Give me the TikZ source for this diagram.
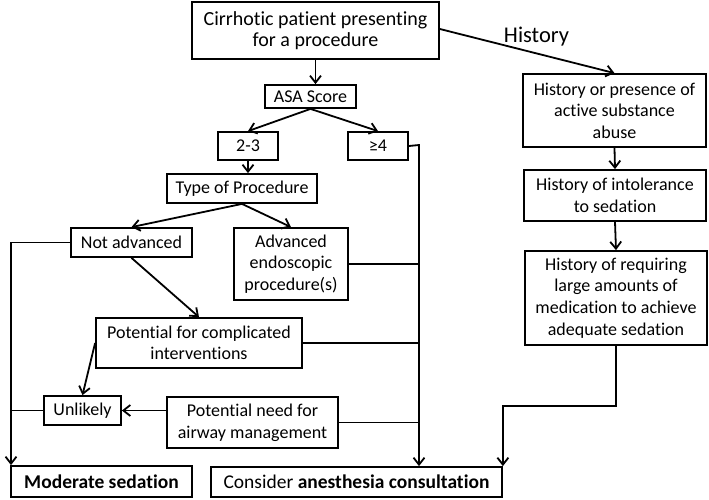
\documentclass[tikz,border=0pt]{standalone}
\usepackage{fontspec}
\setmainfont{Carlito}[Ligatures=NoCommon]
\usepackage{tikz}
\usetikzlibrary{shapes,arrows.meta,positioning}
\tikzstyle{bnode} = [rectangle, draw, line width=1.8pt, inner sep=0pt, align=center, font=\fontsize{18}{21.6}\selectfont]
\tikzstyle{line} = [draw, line width=1.8pt]
\tikzstyle{aline} = [draw, line width=1.8pt, -{Straight Barb[length=7pt,width=11pt]}]

\begin{document}
\begin{tikzpicture}[x=1pt, y=-1pt]
			\useasboundingbox (0,0) rectangle (709,499);
			\node [bnode, minimum width=247, minimum height=57, font=\fontsize{20}{21.5}\selectfont] (start) at (315.5, 30.5) {Cirrhotic patient presenting\\for a procedure};
			\node [bnode, minimum width=91, minimum height=23] (asa) at (310.5, 96.5) {ASA Score};
			\node [bnode, minimum width=60, minimum height=28] (low) at (248, 146) {2-3};
			\node [bnode, minimum width=60, minimum height=28] (high) at (378, 146) {≥4};
			\node [bnode, minimum width=150, minimum height=29] (type) at (242, 188.5) {Type of Procedure};
			\node [bnode, minimum width=121, minimum height=29] (notadv) at (131.5, 242.5) {Not advanced};
			\node [bnode, minimum width=114, minimum height=72] (adv) at (291, 264) {Advanced\\endoscopic\\procedure(s)};
			\node [bnode, minimum width=206, minimum height=50] (compl) at (199, 343) {Potential for complicated\\interventions};
			\node [bnode, minimum width=77, minimum height=29] (unlikely) at (82.5, 410.5) {Unlikely};
			\node [bnode, minimum width=171, minimum height=51] (airway) at (252.5, 422.5) {Potential need for\\airway management};
			\node [bnode, minimum width=181, minimum height=31, font=\fontsize{19.5}{22}\selectfont] (moderate) at (101.5, 481.5) {\textbf{Moderate sedation}};
			\node [bnode, minimum width=291, minimum height=30, font=\fontsize{19.5}{22}\selectfont] (consult) at (356.5, 482) {Consider \textbf{anesthesia consultation}};
			\node [bnode, minimum width=183, minimum height=73] (hist1) at (614.5, 110.5) {History or presence of\\active substance\\abuse};
			\node [bnode, minimum width=182, minimum height=51] (hist2) at (615, 195.5) {History of intolerance\\to sedation};
			\node [bnode, minimum width=182, minimum height=94] (hist3) at (616, 298) {History of requiring\\large amounts of\\medication to achieve\\adequate sedation};
			\node [anchor=base, inner sep=0pt, font=\fontsize{22.5}{26}\selectfont] (histlabel) at (536.5, 42) {History};

			\coordinate (rbus) at (419, 145);
			\coordinate (lbus) at (11, 242.5);
			\coordinate (hstep) at (616, 406);

			\path [aline] (start.south) -- (start.south |- asa.north);
			\path [aline] (asa.south) -- (low.north);
			\path [aline] (asa.south) -- (high.north);
			\path [aline] (low.south) -- (low.south |- type.north);
			\path [aline] (type.south) -- (notadv.north);
			\path [aline] (type.south) -- (adv.north);
			\path [aline] (notadv.south) -- (compl.north);
			\path [aline] (compl.west) -- (unlikely.north);
			\path [aline] (airway.west |- unlikely) -- (unlikely.east);
			\path [line] (unlikely.west) -- (unlikely.west -| lbus);
			\path [aline] (notadv.west) -- (lbus) -- (lbus |- moderate.north);
			\path [aline] (high.east) -- (rbus) -- (rbus |- consult.north);
			\path [line] (adv.east) -- (adv.east -| rbus);
			\path [line] (compl.east) -- (compl.east -| rbus);
			\path [line] (airway.east) -- (airway.east -| rbus);
			\path [aline] ([yshift=1.5pt]start.east) -- (hist1.north);
			\path [aline] (hist1.south) -- (hist2.north);
			\path [aline] (hist2.south) -- (hist3.north);
			\path [aline] (hist3.south) -- (hstep) -| (consult.north east);
		\end{tikzpicture}
\end{document}
